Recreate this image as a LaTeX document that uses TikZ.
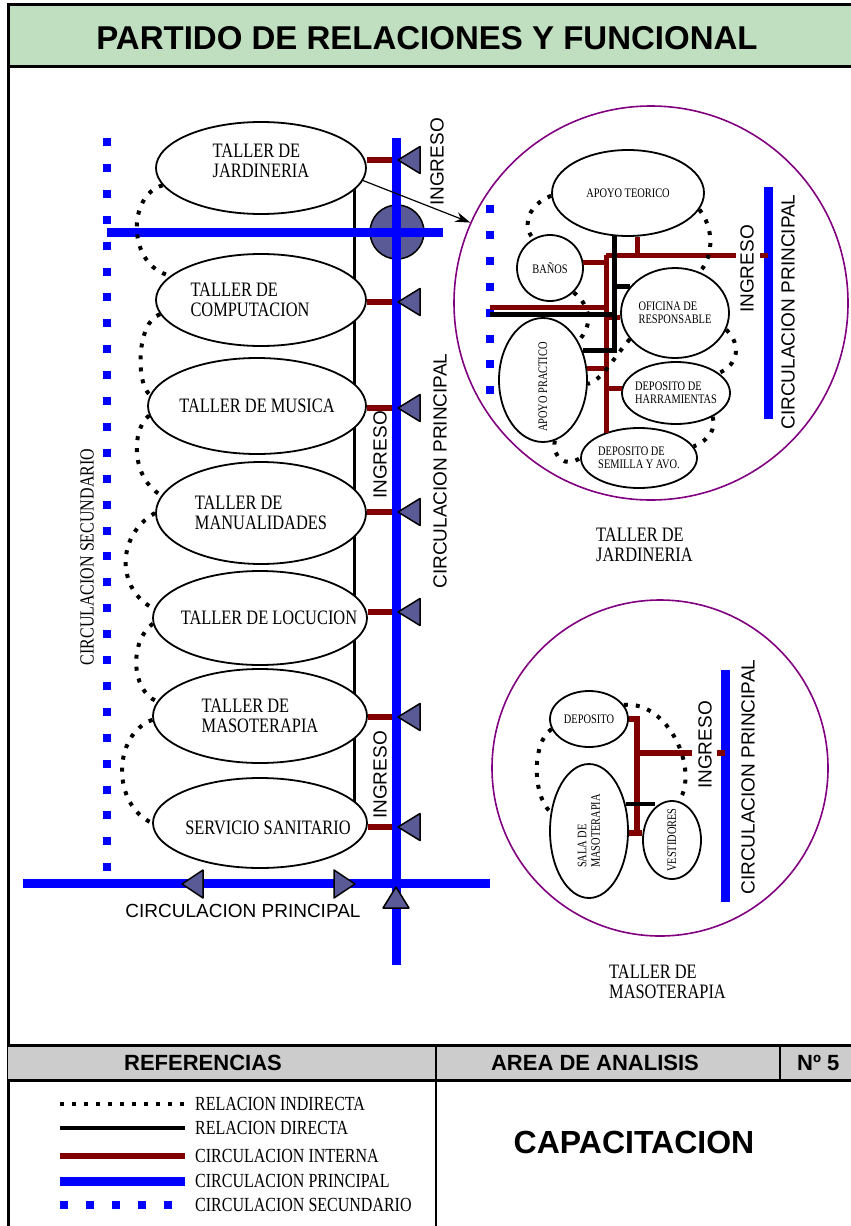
\documentclass[tikz,border=0pt]{standalone}
\usepackage{fontspec}
\setmainfont{Liberation Serif}
\newfontfamily\arial{Liberation Sans}
\newfontfamily\cond[FakeStretch=0.8]{Liberation Serif}
\usetikzlibrary{shapes.geometric,arrows.meta,backgrounds}
\definecolor{verdetit}{RGB}{192,222,192}
\definecolor{rojoint}{RGB}{128,0,0}
\definecolor{pizarra}{RGB}{90,90,150}
\definecolor{morado}{RGB}{128,0,128}
\tikzset{
  cprin/.style={blue, line width=9pt},
  csec/.style={blue, line width=8pt, dash pattern=on 8pt off 17.9pt},
  cint/.style={rojoint, line width=6pt},
  rdir/.style={black, line width=3pt},
  rind/.style={black, line width=4pt, dash pattern=on 4pt off 8pt},
  flecha/.style={fill=pizarra, draw=black, line width=1.5pt, line join=round},
  taller/.style={draw, ellipse, fill=white, line width=1.8pt, inner sep=0pt},
  txtaller/.style={font=\cond\fontsize{20.5}{20}\selectfont, align=left, inner sep=0pt},
  txesp/.style={font=\cond\fontsize{13}{13.5}\selectfont, align=left, inner sep=0pt},
  rotulo/.style={font=\arial\fontsize{19}{20}\selectfont, inner sep=0pt},
  hdr/.style={font=\arial\bfseries\fontsize{22}{24}\selectfont, inner sep=0pt},
  leyenda/.style={font=\cond\fontsize{20}{22}\selectfont, anchor=west, inner sep=0pt}
}
\begin{document}
\begin{tikzpicture}[x=1pt,y=-1pt]
\useasboundingbox (0,0) rectangle (851,1226);
\fill[verdetit] (8,4) rectangle (851,66);
\draw[line width=3pt] (851,4) -- (8,4) -- (8,1226);
\draw[line width=3pt] (8,66) -- (851,66);
\node[font=\arial\bfseries\fontsize{33}{36}\selectfont] (titulo) at (427,38) {PARTIDO DE RELACIONES Y FUNCIONAL};
\fill[gray!40] (8,1045) rectangle (851,1080);
\draw[line width=3pt] (8,1045) -- (851,1045);
\draw[line width=3pt] (8,1080) -- (851,1080);
\draw[line width=2pt] (436,1045) -- (436,1226);
\draw[line width=2pt] (780,1045) -- (780,1080);
\node[hdr] (ref) at (203,1063) {REFERENCIAS};
\node[hdr] (area) at (595,1063) {AREA DE ANALISIS};
\node[hdr, anchor=west] (num) at (797,1063) {Nº 5};
\node[font=\arial\bfseries\fontsize{32}{34}\selectfont] (cap) at (634,1142) {CAPACITACION};
\node[leyenda] (ley1) at (195,1104) {RELACION INDIRECTA};
\draw[rind] ([xshift=-135pt]ley1.west) -- ([xshift=-10pt]ley1.west);
\node[leyenda] (ley2) at (195,1128) {RELACION DIRECTA};
\draw[rdir, line width=4pt] ([xshift=-135pt]ley2.west) -- ([xshift=-10pt]ley2.west);
\node[leyenda] (ley3) at (195,1156) {CIRCULACION INTERNA};
\draw[cint] ([xshift=-135pt]ley3.west) -- ([xshift=-10pt]ley3.west);
\node[leyenda] (ley4) at (195,1181) {CIRCULACION PRINCIPAL};
\draw[cprin] ([xshift=-135pt]ley4.west) -- ([xshift=-10pt]ley4.west);
\node[leyenda] (ley5) at (195,1205) {CIRCULACION SECUNDARIO};
\draw[csec] ([xshift=-135pt]ley5.west) -- ([xshift=-10pt]ley5.west);

\coordinate (vtop) at (396,138);
\coordinate (vbot) at (396,965);
\coordinate (dv) at (354,0);
\node[circle, fill=pizarra, draw=black, line width=1.5pt, minimum size=54pt, inner sep=0pt] (nudo) at (397,232) {};
\draw[csec] (107,138) -- (107,874);
\draw[cprin] (107,232) -- (443,232);
\draw[cprin] (vtop) -- (vbot);
\draw[cprin] (23,883) -- (490,883);
\node[taller, minimum width=210pt, minimum height=92pt, label={[txtaller, yshift=7pt]center:TALLER DE\\JARDINERIA}] (jard) at (261,168) {};
\node[taller, minimum width=210pt, minimum height=92pt, label={[txtaller, xshift=-11pt]center:TALLER DE\\COMPUTACION}] (comp) at (261,300) {};
\node[taller, minimum width=218pt, minimum height=96pt, label={[txtaller]center:TALLER DE MUSICA}] (musi) at (257,406) {};
\node[taller, minimum width=210pt, minimum height=102pt, label={[txtaller]center:TALLER DE\\MANUALIDADES}] (manu) at (261,513) {};
\node[taller, minimum width=214pt, minimum height=94pt, label={[txtaller, xshift=9pt]center:TALLER DE LOCUCION}] (locu) at (260,618) {};
\node[taller, minimum width=214pt, minimum height=94pt, label={[txtaller]center:TALLER DE\\MASOTERAPIA}] (maso) at (260,716) {};
\node[taller, minimum width=214pt, minimum height=90pt, label={[txtaller, xshift=8pt, yshift=-5pt]center:SERVICIO SANITARIO}] (sani) at (260,823) {};
\begin{scope}[on background layer]
\draw[rdir] (jard.center -| dv) -- (sani.center -| dv);
\foreach \n/\s in {jard/8,comp/-2,musi/-2,manu/1,locu/6,maso/-1,sani/-4}
  \draw[cint] ([yshift=\s pt]\n.east) -- ([yshift=\s pt]\n.east -| vtop);
\end{scope}
\foreach \n/\s in {jard/8,comp/-2,musi/-2,manu/1,locu/6,maso/-1,sani/-4}
  \filldraw[flecha] ([yshift=\s pt]\n.east -| vtop) ++(2,0) -- ++(22,-13.5) -- ++(0,27) -- cycle;
\draw[rind] (jard.190) .. controls (127,195) and (127,266) .. (comp.165);
\draw[rind] (comp.188) .. controls (136,322) and (136,385) .. (musi.174);
\draw[rind] (musi.185) .. controls (131,430) and (131,478) .. (manu.170);
\draw[rind] (manu.180) .. controls (116,535) and (116,590) .. (locu.175);
\draw[rind] (locu.183) .. controls (130,640) and (130,690) .. (maso.172);
\draw[rind] (maso.182) .. controls (112,735) and (112,805) .. (sani.180);
\filldraw[flecha] (182,884) -- (203,870) -- (203,898) -- cycle;
\filldraw[flecha] (355,884) -- (334,870) -- (334,898) -- cycle;
\filldraw[flecha] (396,887) -- (383,908) -- (409,908) -- cycle;
\node[rotulo, rotate=90] (ing1) at (437,162) {INGRESO};
\node[rotulo, rotate=90] (ing2) at (380,455) {INGRESO};
\node[rotulo, rotate=90] (ing3) at (380,775) {INGRESO};
\node[rotulo, rotate=90] (cp1) at (440,471) {CIRCULACION PRINCIPAL};
\node[rotulo] (cp2) at (243,911) {CIRCULACION PRINCIPAL};
\node[font=\cond\fontsize{20}{22}\selectfont, rotate=90, inner sep=0pt] (secun) at (87,557) {CIRCULACION SECUNDARIO};

\node[draw=morado, circle, line width=1.6pt, minimum size=394pt, inner sep=0pt] (tjar) at (651,303) {};
\draw[-{Stealth[length=15pt,width=10pt]}, line width=1.2pt] (jard.-7) -- (tjar.156);
\node[taller, minimum width=152pt, minimum height=86pt, label={[txesp]center:APOYO TEORICO}] (teor) at (628,193) {};
\node[taller, minimum size=66pt, label={[txesp]center:BAÑOS}] (banos) at (550,268) {};
\node[taller, minimum width=108pt, minimum height=90pt, label={[txesp]center:OFICINA DE\\RESPONSABLE}] (ofic) at (675,313) {};
\node[taller, minimum width=88pt, minimum height=124pt, label={[txesp, yshift=-7pt, rotate=90]center:APOYO PRACTICO}] (prac) at (543,380) {};
\node[taller, minimum width=108pt, minimum height=62pt, label={[txesp]center:DEPOSITO DE\\HARRAMIENTAS}] (herr) at (676,393) {};
\node[taller, minimum width=116pt, minimum height=60pt, label={[txesp]center:DEPOSITO DE\\SEMILLA Y AVO.}] (semi) at (639,458) {};
\coordinate (rtop) at (606,255);
\coordinate (jing) at (768,255);
\draw[csec] (490,205) -- (490,412);
\draw[cprin] (768,187) -- (768,419);
\draw[cint, line width=5pt] (rtop) -- (rtop |- semi.143);
\draw[cint, line width=5pt] (rtop) -- ([xshift=-32pt]jing);
\draw[cint, line width=5pt] ([xshift=-8pt]jing) -- (jing);
\draw[cint, line width=5pt] (teor.-78) -- (teor.-78 |- rtop);
\draw[cint, line width=5pt] (banos.10) -- (banos.10 -| rtop);
\draw[cint, line width=5pt] (490,307) -- (606,307);
\draw[cint, line width=5pt] (rtop |- ofic.185) -- (ofic.185);
\draw[cint, line width=5pt] (prac.14) -- (prac.14 -| rtop);
\draw[cint, line width=5pt] (rtop |- herr.175) -- (herr.175);
\draw[rdir, line width=5pt] (teor.-107) |- (prac.37);
\draw[rdir, line width=5pt] (490,314) -- (615,314);
\draw[rdir, line width=5pt] (teor.-107 |- ofic.149) -- (ofic.149);
\draw[rind] (teor.182) .. controls (528,205) and (522,225) .. (banos.120);
\draw[rind] (teor.-13) .. controls (714,228) and (714,256) .. (ofic.59);
\draw[rind] (banos.-46) .. controls (590,305) and (594,325) .. (prac.48);
\draw[rind] (ofic.210) .. controls (612,360) and (602,380) .. (prac.-5);
\draw[rind] (ofic.-18) .. controls (742,345) and (738,365) .. (herr.25);
\draw[rind] (herr.-33) .. controls (716,428) and (710,440) .. (semi.12);
\draw[rind] (prac.-79) .. controls (552,458) and (566,468) .. (semi.180);
\node[rotulo, rotate=90] (ingj) at (747,269) {INGRESO};
\node[rotulo, rotate=90] (cpj) at (788,312) {CIRCULACION PRINCIPAL};
\node[txtaller, anchor=west] (ljar) at (596,545) {TALLER DE\\JARDINERIA};

\node[draw=morado, circle, line width=1.6pt, minimum size=336pt, inner sep=0pt] (tmas) at (660,768) {};
\node[taller, minimum width=78pt, minimum height=56pt, label={[txesp]center:DEPOSITO}] (depo) at (589,719) {};
\node[taller, minimum width=78pt, minimum height=134pt, label={[txesp, rotate=90]center:SALA DE\\MASOTERAPIA}] (sala) at (589,831) {};
\node[taller, minimum width=58pt, minimum height=78pt, label={[txesp, rotate=90]center:VESTIDORES}] (vest) at (672,840) {};
\coordinate (mx) at (637,0);
\coordinate (ming) at (725,753);
\draw[cprin] (725,670) -- (725,902);
\draw[cint, line width=5.5pt] (depo.east) -| (sala.-3 -| mx);
\draw[cint, line width=5.5pt] (sala.-3) -- (sala.-3 -| vest.west);
\draw[cint, line width=5.5pt] (mx |- ming) -- ([xshift=-33pt]ming);
\draw[cint, line width=5.5pt] ([xshift=-8pt]ming) -- (ming);
\draw[rdir, line width=4pt] (sala.36) -- (sala.36 -| vest.118);
\draw[rind] (depo.195) .. controls (532,742) and (532,795) .. (sala.154);
\draw[rind] (depo.22) .. controls (668,700) and (700,770) .. (vest.80);
\node[rotulo, rotate=90] (ingm) at (705,745) {INGRESO};
\node[rotulo, rotate=90] (cpm) at (748,777) {CIRCULACION PRINCIPAL};
\node[txtaller, anchor=west] (lmas) at (609,982) {TALLER DE\\MASOTERAPIA};
\end{tikzpicture}
\end{document}
